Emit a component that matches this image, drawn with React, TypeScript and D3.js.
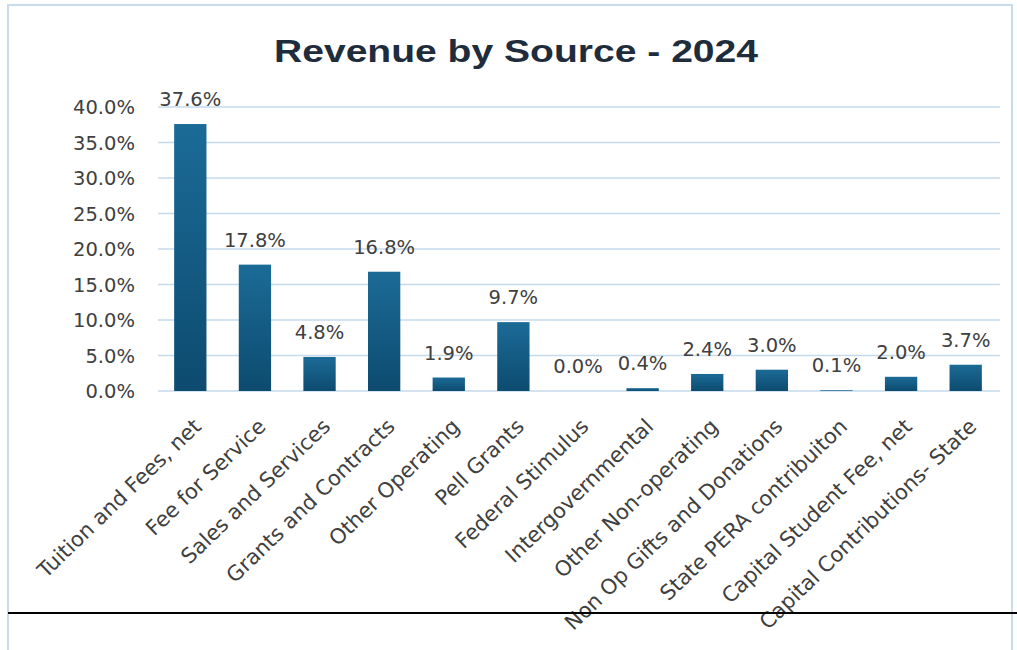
import * as d3 from "d3";
import { useEffect, useRef } from "react";

const categories = [
  "Tuition and Fees, net",
  "Fee for Service",
  "Sales and Services",
  "Grants and Contracts",
  "Other Operating",
  "Pell Grants",
  "Federal Stimulus",
  "Intergovernmental",
  "Other Non-operating",
  "Non Op Gifts and Donations",
  "State PERA contribuiton",
  "Capital Student Fee, net",
  "Capital Contributions- State",
];

const shares = [37.6, 17.8, 4.8, 16.8, 1.9, 9.7, 0.0, 0.4, 2.4, 3.0, 0.1, 2.0, 3.7];

const yTicks = [0, 5, 10, 15, 20, 25, 30, 35, 40];

const title = "Revenue by Source - 2024";

const WIDTH = 1017;
const HEIGHT = 650;

export default function App() {
  const svgRef = useRef<SVGSVGElement>(null);

  useEffect(() => {
    if (!svgRef.current) return;
    const svg = d3.select(svgRef.current);
    svg.selectAll("*").remove();

    const font = "'DejaVu Sans', sans-serif";
    const textColor = "#404040";

    // frame
    svg
      .append("rect")
      .attr("x", 8)
      .attr("y", 5)
      .attr("width", 1004)
      .attr("height", 660)
      .style("fill", "#fff")
      .style("stroke", "#c9dcef")
      .style("stroke-width", 2);

    const defs = svg.append("defs");
    const grad = defs
      .append("linearGradient")
      .attr("id", "barGrad")
      .attr("x1", 0)
      .attr("y1", 0)
      .attr("x2", 0)
      .attr("y2", 1);
    grad.append("stop").attr("offset", "0%").attr("stop-color", "#1b6b97");
    grad.append("stop").attr("offset", "100%").attr("stop-color", "#0d4b6f");

    // Title
    svg
      .append("text")
      .attr("x", 516)
      .attr("y", 62)
      .attr("text-anchor", "middle")
      .attr("textLength", 484)
      .attr("lengthAdjust", "spacingAndGlyphs")
      .style("font-family", "'Liberation Sans', Arial, sans-serif")
      .style("font-size", "31px")
      .style("font-weight", "bold")
      .style("fill", "#1e2c3c")
      .text(title);

    const x = d3.scaleBand<string>().domain(categories).range([158, 998]).paddingInner(0.5).paddingOuter(0.25);
    const y = d3.scaleLinear().domain([0, 40]).range([391, 107]);

    // grid
    svg
      .append("g")
      .selectAll("line")
      .data(yTicks)
      .join("line")
      .attr("x1", 158)
      .attr("x2", 1000)
      .attr("y1", (d) => y(d))
      .attr("y2", (d) => y(d))
      .style("stroke", "#c6daed")
      .style("stroke-width", 1.5);

    // y tick labels
    svg
      .append("g")
      .selectAll("text")
      .data(yTicks)
      .join("text")
      .attr("x", 135)
      .attr("y", (d) => y(d))
      .attr("dy", "0.36em")
      .attr("text-anchor", "end")
      .style("font-family", font)
      .style("font-size", "19.5px")
      .style("fill", textColor)
      .text((d) => `${d.toFixed(1)}%`);

    // bars
    svg
      .append("g")
      .selectAll("rect")
      .data(shares)
      .join("rect")
      .attr("x", (_, i) => x(categories[i])!)
      .attr("y", (d) => y(d))
      .attr("width", x.bandwidth())
      .attr("height", (d) => y(0) - y(d))
      .style("fill", "url(#barGrad)");

    // value labels
    svg
      .append("g")
      .selectAll("text")
      .data(shares)
      .join("text")
      .attr("x", (_, i) => x(categories[i])! + x.bandwidth() / 2)
      .attr("y", (d) => y(d) - 18)
      .attr("text-anchor", "middle")
      .style("font-family", font)
      .style("font-size", "19.5px")
      .style("fill", textColor)
      .text((d) => `${d.toFixed(1)}%`);

    // category labels
    svg
      .append("g")
      .selectAll("text")
      .data(categories)
      .join("text")
      .attr("text-anchor", "end")
      .attr(
        "transform",
        (d) => `translate(${x(d)! + x.bandwidth() / 2 + 12},428) rotate(-44)`,
      )
      .style("font-family", font)
      .style("font-size", "21px")
      .style("fill", textColor)
      .text((d) => d);

    // bottom rule
    svg
      .append("line")
      .attr("x1", 8)
      .attr("x2", WIDTH)
      .attr("y1", 613)
      .attr("y2", 613)
      .style("stroke", "#000")
      .style("stroke-width", 2);
  }, []);

  return (
    <svg
      ref={svgRef}
      width={WIDTH}
      height={HEIGHT}
      style={{ position: "absolute", left: 0, top: 0, background: "#fff" }}
    />
  );
}
